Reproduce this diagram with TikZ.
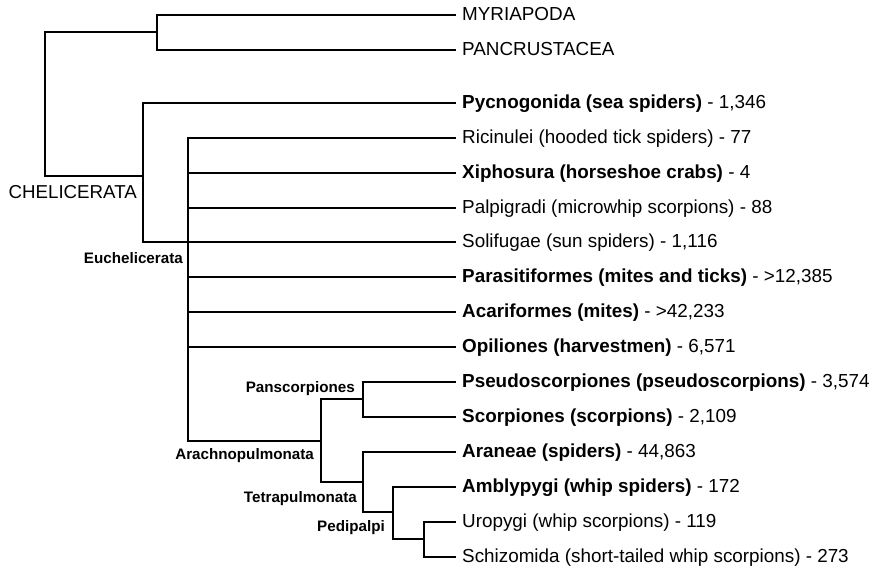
\documentclass[tikz,border=0pt]{standalone}
\usepackage{fontspec}
\setmainfont{Liberation Sans}
\begin{document}
\begin{tikzpicture}[x=1pt,y=-1pt,
  branch/.style={draw=black,line width=1.9pt,line cap=rect,line join=miter},
  leaf/.style={anchor=west,inner xsep=7pt,inner ysep=0pt,text height=14pt,text depth=3.4pt,font=\fontsize{18.85}{20}\selectfont},
  clade/.style={anchor=base east,inner sep=0pt,font=\fontsize{15.2}{17}\selectfont\bfseries},
  bigclade/.style={anchor=base east,inner sep=0pt,font=\fontsize{18.7}{20}\selectfont}]
\useasboundingbox (0,0) rectangle (874,569);
% leaves
\node[leaf] (myr) at (455,15) {MYRIAPODA};
\node[leaf] (pan) at (455,50) {PANCRUSTACEA};
\node[leaf] (pyc) at (455,103) {\textbf{Pycnogonida (sea spiders)} - 1,346};
\node[leaf] (ric) at (455,138) {Ricinulei (hooded tick spiders) - 77};
\node[leaf] (xip) at (455,173) {\textbf{Xiphosura (horseshoe crabs)} - 4};
\node[leaf] (pal) at (455,208) {Palpigradi (microwhip scorpions) - 88};
\node[leaf] (sol) at (455,242) {Solifugae (sun spiders) - 1,116};
\node[leaf] (par) at (455,277) {\textbf{Parasitiformes (mites and ticks)} - >12,385};
\node[leaf] (aca) at (455,312) {\textbf{Acariformes (mites)} - >42,233};
\node[leaf] (opi) at (455,347) {\textbf{Opiliones (harvestmen)} - 6,571};
\node[leaf] (pse) at (455,382) {\textbf{Pseudoscorpiones (pseudoscorpions)} - 3,574};
\node[leaf] (sco) at (455,417) {\textbf{Scorpiones (scorpions)} - 2,109};
\node[leaf] (ara) at (455,452) {\textbf{Araneae (spiders)} - 44,863};
\node[leaf] (amb) at (455,487) {\textbf{Amblypygi (whip spiders)} - 172};
\node[leaf] (uro) at (455,522) {Uropygi (whip scorpions) - 119};
\node[leaf] (sch) at (455,557) {Schizomida (short-tailed whip scorpions) - 273};
% internal nodes
\coordinate (mand) at (157,32);
\coordinate (root) at (45,104);
\coordinate (che) at (143,176);
\coordinate (eu) at (188,242);
\coordinate (arach) at (321,441);
\coordinate (pansc) at (363,399);
\coordinate (tetra) at (363,482);
\coordinate (pedi) at (393,512);
\coordinate (us) at (424,539);
% clade labels
\node[bigclade] (lche) at (137,199) {CHELICERATA};
\node[clade] (leu) at (183,263) {Euchelicerata};
\node[clade] (lpan) at (355,392) {Panscorpiones};
\node[clade] (lara) at (314,459) {Arachnopulmonata};
\node[clade] (ltet) at (357,502) {Tetrapulmonata};
\node[clade] (lped) at (385,531) {Pedipalpi};
% branches
\draw[branch] (myr.west) -| (mand) |- (pan.west);
\draw[branch] (mand) -| (root) |- (che);
\draw[branch] (pyc.west) -| (che) |- (eu);
\foreach \n in {ric,xip,pal,sol,par,aca,opi} \draw[branch] (\n.west) -| (eu);
\draw[branch] (arach) -| (eu);
\draw[branch] (pansc) -| (arach) |- (tetra);
\draw[branch] (pse.west) -| (pansc) |- (sco.west);
\draw[branch] (ara.west) -| (tetra) |- (pedi);
\draw[branch] (amb.west) -| (pedi) |- (us);
\draw[branch] (uro.west) -| (us) |- (sch.west);
\end{tikzpicture}
\end{document}
